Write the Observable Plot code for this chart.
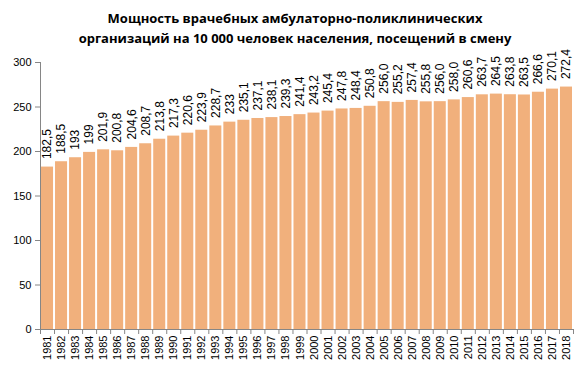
<!DOCTYPE html>
<html>
<head>
<meta charset="utf-8">
<script src="https://cdn.jsdelivr.net/npm/d3@7"></script>
<script src="https://cdn.jsdelivr.net/npm/@observablehq/plot@0.6"></script>
<style>
  body { margin: 0; background: #fff; }
  #title { width: 580px; height: 45px; box-sizing: border-box; padding-top: 8px; padding-left: 10px;
    text-align: center; font-family: "Open Sans", sans-serif; font-weight: 700; font-size: 13px; line-height: 20px; color: #000; }
</style>
</head>
<body>
<div id="title">Мощность врачебных амбулаторно-поликлинических<br>организаций на 10 000 человек населения, посещений в смену</div>
<div id="chart"></div>
<script>
const years = [1981,1982,1983,1984,1985,1986,1987,1988,1989,1990,1991,1992,1993,1994,1995,1996,1997,1998,1999,2000,2001,2002,2003,2004,2005,2006,2007,2008,2009,2010,2011,2012,2013,2014,2015,2016,2017,2018];
const values = [182.5,188.5,193,199,201.9,200.8,204.6,208.7,213.8,217.3,220.6,223.9,228.7,233,235.1,237.1,238.1,239.3,241.4,243.2,245.4,247.8,248.4,250.8,256.0,255.2,257.4,255.8,256.0,258.0,260.6,263.7,264.5,263.8,263.5,266.6,270.1,272.4];
const labels = ["182,5","188,5","193","199","201,9","200,8","204,6","208,7","213,8","217,3","220,6","223,9","228,7","233","235,1","237,1","238,1","239,3","241,4","243,2","245,4","247,8","248,4","250,8","256,0","255,2","257,4","255,8","256,0","258,0","260,6","263,7","264,5","263,8","263,5","266,6","270,1","272,4"];
const yTicks = [0,50,100,150,200,250,300];

const data = years.map((y, i) => ({year: y, value: values[i], label: labels[i]}));
const boundaries = d3.range(years[0] - 0.5, years[years.length - 1] + 1, 1);

const chart = Plot.plot({
  width: 580,
  height: 325,
  marginTop: 17,
  marginBottom: 41,
  marginLeft: 40,
  marginRight: 7,
  style: {fontFamily: "'Liberation Sans', Arial, sans-serif", fontSize: "11px", color: "#000"},
  x: {domain: [years[0] - 0.5, years[years.length - 1] + 0.5]},
  y: {domain: [0, 300]},
  marks: [
    Plot.rectY(data, {x1: d => d.year - 0.5, x2: d => d.year + 0.5, y: "value", fill: "#F1B07C", insetLeft: 1, insetRight: 1}),
    Plot.ruleY([0], {stroke: "#868686"}),
    Plot.ruleX([boundaries[0]], {y1: 0, y2: 300, stroke: "#868686"}),
    Plot.axisY({ticks: yTicks, tickSize: 5, tickPadding: 4, stroke: "#868686", label: null, fontSize: 11}),
    Plot.axisX({ticks: boundaries, tickSize: 5, tickFormat: () => "", stroke: "#868686", label: null}),
    Plot.axisX({ticks: years, tickSize: 0, tickPadding: 6, tickRotate: -90, tickFormat: d => String(d), label: null, fontSize: 11}),
    Plot.text(data, {x: "year", y: "value", text: "label", rotate: -90, textAnchor: "start", lineAnchor: "middle", dy: -8, fontSize: 12, fill: "#000"})
  ]
});
document.getElementById("chart").appendChild(chart);
</script>
</body>
</html>
